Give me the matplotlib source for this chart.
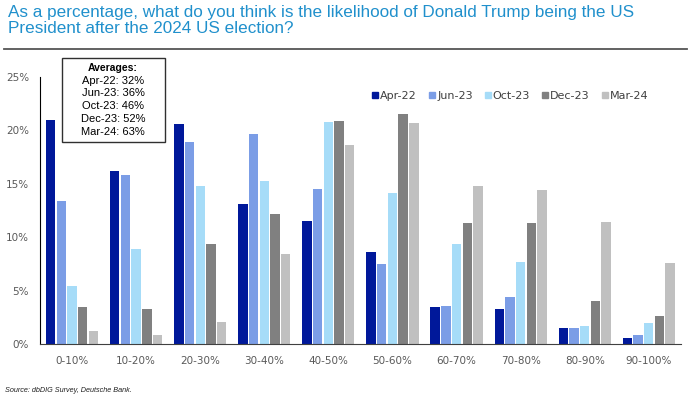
import numpy as np
import matplotlib
matplotlib.use("Agg")
import matplotlib.pyplot as plt
from matplotlib.lines import Line2D
from matplotlib.ticker import FuncFormatter

# data (percent of respondents)
buckets = ["0-10%", "10-20%", "20-30%", "30-40%", "40-50%",
           "50-60%", "60-70%", "70-80%", "80-90%", "90-100%"]
series = ["Apr-22", "Jun-23", "Oct-23", "Dec-23", "Mar-24"]
apr22 = [21.0, 16.2, 20.6, 13.1, 11.5, 8.6, 3.5, 3.3, 1.5, 0.6]
jun23 = [13.4, 15.8, 18.9, 19.7, 14.5, 7.5, 3.6, 4.4, 1.5, 0.8]
oct23 = [5.4, 8.9, 14.8, 15.3, 20.8, 14.1, 9.4, 7.7, 1.7, 2.0]
dec23 = [3.5, 3.3, 9.4, 12.2, 20.9, 21.5, 11.3, 11.3, 4.0, 2.6]
mar24 = [1.2, 0.8, 2.1, 8.4, 18.6, 20.7, 14.8, 14.4, 11.4, 7.6]
averages = [32, 36, 46, 52, 63]
colors = ["#00189a", "#7b9de6", "#a6dcf8", "#808080", "#c0c0c0"]

TITLE = ("As a percentage, what do you think is the likelihood of Donald Trump being the US\n"
         "President after the 2024 US election?")
SOURCE = "Source: dbDIG Survey, Deutsche Bank."

W, H = 695, 398
fig = plt.figure(figsize=(W / 100, H / 100), dpi=100)
ax = fig.add_axes([0.0576, 0.1357, 0.922, 0.671])

x = np.arange(len(buckets))
slot = 1 / 6
for i, (vals, c) in enumerate(zip([apr22, jun23, oct23, dec23, mar24], colors)):
    ax.bar(x + (i - 2) * slot, vals, width=slot * 0.88, color=c, label=series[i])

ax.set_xlim(-0.5, len(buckets) - 0.5)
ax.set_ylim(0, 25)
ax.set_yticks(np.arange(0, 26, 5))
ax.yaxis.set_major_formatter(FuncFormatter(lambda v, _: f"{v:.0f}%"))
ax.set_xticks(x)
ax.set_xticklabels(buckets)
ax.tick_params(length=0, labelsize=7.5, colors="#595959", pad=9)
ax.tick_params(axis="y", pad=8)
for s in ["top", "right"]:
    ax.spines[s].set_visible(False)
ax.spines["left"].set_color("black")
ax.spines["bottom"].set_color("#404040")

handles = [Line2D([], [], marker="s", ls="", color=c, markersize=5) for c in colors]
ax.legend(handles, series, loc="upper right", bbox_to_anchor=(0.965, 0.985), ncol=5,
          frameon=False, fontsize=8, handlelength=0.6, handletextpad=0.15,
          columnspacing=1.05, labelcolor="#404040")

# averages box, one line at a time
fig.text(113 / W, 1 - 68 / H, "Averages:", ha="center", va="center", fontsize=7.5,
         fontweight="bold", family="Liberation Sans")
for k, (s, a) in enumerate(zip(series, averages)):
    fig.text(113 / W, 1 - (80.5 + k * 12.9) / H, f"{s}: {a}%", ha="center", va="center",
             fontsize=8, family="Liberation Sans")
fig.patches.append(plt.Rectangle((62 / W, 1 - 142 / H), 103 / W, 84 / H,
                                 transform=fig.transFigure, fill=False,
                                 edgecolor="#303030", lw=1.0))

fig.text(8 / W, 1 - 5 / H, TITLE, ha="left", va="top", fontsize=12.3, color="#2090cc",
         family="Liberation Sans", linespacing=1.05)
fig.add_artist(Line2D([4 / W, 687 / W], [1 - 49 / H, 1 - 49 / H], transform=fig.transFigure,
                      color="#555555", lw=1.3))
fig.text(5 / W, 1 - 391 / H, SOURCE, ha="left", va="center", fontsize=5.2, style="italic",
         family="Liberation Sans", color="#202020")

fig.savefig("out.png", dpi=100)
